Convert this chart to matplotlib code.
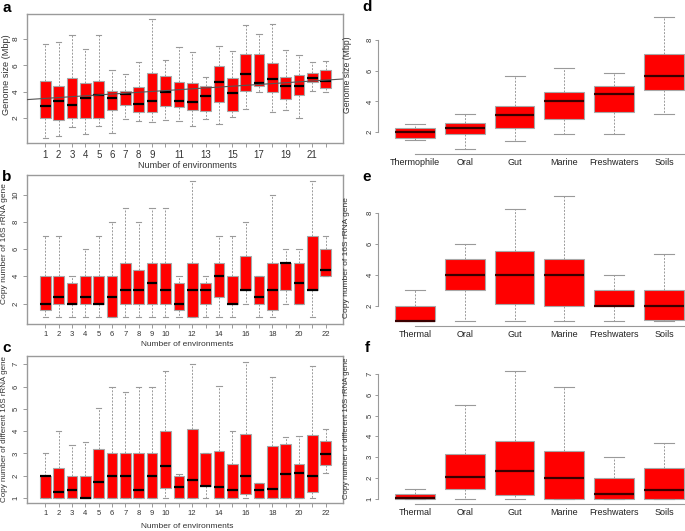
import numpy as np
import matplotlib.pyplot as plt

plt.rcParams['font.family'] = ['Liberation Sans', 'DejaVu Sans']

# ---- panel a: genome size vs number of environments ----
a_lo = [0.48, 0.61, 1.29, 0.76, 1.37, 0.84, 1.90, 1.75, 1.67, 1.87, 1.77,
        1.39, 1.92, 1.52, 2.08, 2.68, 3.99, 2.45, 2.61, 2.03, 4.05, 3.97]
a_q1 = [2.03, 1.87, 2.00, 1.97, 2.00, 2.58, 3.01, 2.43, 2.43, 2.91, 2.86,
        2.58, 2.53, 3.21, 2.53, 4.05, 4.40, 3.97, 3.44, 3.72, 4.73, 4.30]
a_med = [2.88, 3.31, 2.96, 3.52, 3.74, 3.52, 3.79, 3.09, 3.31, 3.94, 3.31,
         3.24, 3.64, 4.75, 3.87, 5.36, 4.65, 4.98, 4.42, 4.45, 5.03, 4.83]
a_q3 = [4.80, 4.40, 5.06, 4.65, 4.78, 4.02, 4.07, 4.32, 5.43, 5.18, 4.70,
        4.65, 4.45, 5.91, 5.03, 6.82, 6.85, 6.14, 5.13, 5.28, 5.38, 5.66]
a_hi = [7.63, 7.78, 8.31, 7.25, 8.26, 5.61, 5.36, 6.22, 9.53, 6.42, 7.38,
        7.00, 5.10, 7.48, 7.10, 9.05, 8.34, 9.15, 7.15, 6.80, 6.22, 6.29]
a_fit = (3.42, 0.066)  # intercept, slope of the trend line
a_xlabels = ['1', '2', '3', '4', '5', '6', '7', '8', '9', '', '11', '', '13', '',
             '15', '', '17', '', '19', '', '21', '']

# ---- panel b: 16S copy number vs number of environments ----
b_lo = [1, 1, 1, 1, 1, 1, 1, 1, 1, 1, 1, 1, 1, 1, 1, 2, 1, 1, 2, 2, 1, 4]
b_q1 = [1.5, 2, 2, 2, 2, 1, 2, 2, 2, 2, 1.5, 1, 2, 2.5, 2, 3, 2, 1.5, 3, 2, 3, 4]
b_med = [2, 2.5, 2, 2.5, 2, 2.5, 3, 3, 3.5, 3, 2, 3, 3, 4, 2, 3, 2.5, 3, 5, 3.5, 3, 4.5]
b_q3 = [4, 4, 3.5, 4, 4, 4, 5, 4.5, 5, 5, 3.5, 5, 3.5, 5, 4, 5.5, 4, 5, 5, 5, 7, 6]
b_hi = [7, 7, 4, 6, 7, 8, 9, 8, 9, 9, 4, 11, 4, 7, 7, 8, 4, 10, 6, 6, 11, 7]
bc_xlabels = ['1', '2', '3', '4', '5', '6', '7', '8', '9', '10', '', '12', '', '14',
              '', '16', '', '18', '', '20', '', '22']

# ---- panel c: different 16S copies vs number of environments ----
c_lo = [1, 1, 1, 1, 1, 1, 1, 1, 1, 1, 1, 1, 1, 1, 1, 1, 1, 1, 1, 1, 1, 2.11]
c_q1 = [1, 1, 1, 1, 1, 1, 1, 1, 1, 1.43, 1, 1, 1.52, 1, 1, 1.16, 1, 1, 1, 1, 1.25, 2.5]
c_med = [1.97, 1.25, 1.37, 1.02, 1.70, 2.0, 2.0, 1.37, 2.0, 2.42, 1.51,
         1.81, 1.54, 1.51, 1.34, 2.0, 1.36, 1.40, 2.08, 2.12, 2.0, 2.95]
c_q3 = [2.0, 2.35, 2.0, 2.0, 3.19, 3.0, 3.0, 3.0, 3.0, 4.0, 2.0,
        4.11, 3.0, 3.10, 2.51, 3.89, 1.67, 3.35, 3.44, 2.51, 3.83, 3.57]
c_hi = [3.0, 4.0, 3.38, 3.53, 5.04, 6.0, 5.76, 6.0, 6.0, 6.69, 2.06,
        7.02, 3.0, 6.03, 4.02, 7.12, 1.67, 6.42, 3.72, 3.77, 6.90, 4.11]

# ---- panels d-f: by environment ----
d_names = ['Thermophile', 'Oral', 'Gut', 'Marine', 'Freshwaters', 'Soils']
d_lo = [1.48, 0.92, 1.44, 1.85, 1.85, 3.21]
d_q1 = [1.65, 1.87, 2.24, 2.85, 3.30, 4.75]
d_med = [2.00, 2.26, 3.13, 4.01, 4.49, 5.68]
d_q3 = [2.30, 2.61, 3.71, 4.64, 5.01, 7.06]
d_hi = [2.56, 3.17, 5.64, 6.16, 5.85, 9.47]

ef_names = ['Thermal', 'Oral', 'Gut', 'Marine', 'Freshwaters', 'Soils']
e_lo = [1, 1, 1, 1, 1, 1]
e_q1 = [1, 3, 2.1, 2, 1.95, 1.1]
e_med = [1, 4, 4, 4, 2, 2]
e_q3 = [2, 5, 5.52, 5, 3, 3]
e_hi = [3, 6, 8.3, 9.09, 4, 5.37]

f_lo = [1, 1, 1, 1, 1, 1]
f_q1 = [1, 1.48, 1.18, 1, 1, 1]
f_med = [1.03, 2.04, 2.33, 2.01, 1.24, 1.40]
f_q3 = [1.21, 3.15, 3.76, 3.28, 2.00, 2.49]
f_hi = [1.48, 5.53, 7.12, 6.39, 3.00, 3.66]

W, H = 685, 531
GRAY = '#9a9a9a'
TXT = '#333333'

fig = plt.figure(figsize=(W / 100, H / 100), dpi=100)


def px_axes(x0, y0, x1, y1):
    return fig.add_axes([x0 / W, 1 - y1 / H, (x1 - x0) / W, (y1 - y0) / H])


def stats(lo, q1, med, q3, hi):
    return [dict(whislo=l, q1=a, med=m, q3=b, whishi=h)
            for l, a, m, b, h in zip(lo, q1, med, q3, hi)]


def draw_boxes(ax, st, med_color):
    ax.bxp(st, positions=np.arange(1, len(st) + 1), widths=0.8, capwidths=0.4,
           showfliers=False, patch_artist=True,
           boxprops=dict(facecolor='#ff0000', edgecolor='#a8a8a8', linewidth=0.8),
           medianprops=dict(color=med_color, linewidth=1.6),
           whiskerprops=dict(color=GRAY, linestyle=(0, (2, 1.5)), linewidth=0.7),
           capprops=dict(color=GRAY, linewidth=0.8))


def left_panel(ax, st, ylim, yticks, xlabels, tick_fs):
    draw_boxes(ax, st, 'black')
    ax.set_xlim(-0.4, 23.3)
    ax.set_ylim(ylim)
    ax.set_xticks(np.arange(1, 23))
    ax.set_xticklabels(xlabels, fontsize=tick_fs)
    ax.set_yticks(yticks)
    ax.set_yticklabels([str(t) for t in yticks], rotation=90, va='center', fontsize=min(tick_fs, 6))
    for sp in ax.spines.values():
        sp.set_color(GRAY)
        sp.set_linewidth(1.0)
    ax.tick_params(color=GRAY, labelcolor=TXT, length=3, width=0.7, pad=2)


def right_panel(ax, st, names, ylim, yticks):
    draw_boxes(ax, st, '#3a0000')
    ax.set_xlim(0.26, 6.42)
    ax.set_ylim(ylim)
    ax.set_xticks(np.arange(1, len(names) + 1))
    ax.set_xticklabels(names, fontsize=6.5, color='#222222')
    ax.set_yticks(yticks)
    ax.set_yticklabels([str(t) for t in yticks], rotation=90, va='center', fontsize=5.5)
    ax.spines['top'].set_visible(False)
    ax.spines['right'].set_visible(False)
    ax.spines['left'].set_bounds(yticks[0], yticks[-1])
    ax.spines['bottom'].set_bounds(1, 6.42)
    for sp in ('left', 'bottom'):
        ax.spines[sp].set_color(GRAY)
        ax.spines[sp].set_linewidth(0.8)
    ax.tick_params(axis='y', color=GRAY, labelcolor=TXT, length=2, width=0.7, pad=1)
    ax.tick_params(axis='x', length=0, pad=3)


# left column
ax_a = px_axes(26.7, 14, 343, 142.7)
left_panel(ax_a, stats(a_lo, a_q1, a_med, a_q3, a_hi), (0.13, 9.88), [2, 4, 6, 8], a_xlabels, 7)
ax_a.axline((0, a_fit[0]), slope=a_fit[1], color='#555555', linewidth=0.8, zorder=3)

ax_b = px_axes(26.7, 175, 343, 324)
left_panel(ax_b, stats(b_lo, b_q1, b_med, b_q3, b_hi), (0.5, 11.45), [2, 4, 6, 8, 10], bc_xlabels, 5.5)

ax_c = px_axes(26.7, 356, 343, 503.3)
left_panel(ax_c, stats(c_lo, c_q1, c_med, c_q3, c_hi), (0.76, 7.37), [1, 2, 3, 4, 5, 6, 7], bc_xlabels, 5.5)

# right column
ax_d = px_axes(378, 12, 685, 154)
right_panel(ax_d, stats(d_lo, d_q1, d_med, d_q3, d_hi), d_names, (0.58, 9.81), [2, 4, 6, 8])

ax_e = px_axes(378, 191.5, 685, 326)
right_panel(ax_e, stats(e_lo, e_q1, e_med, e_q3, e_hi), ef_names, (0.68, 9.41), [2, 4, 6, 8])

ax_f = px_axes(378, 366.4, 685, 503.8)
right_panel(ax_f, stats(f_lo, f_q1, f_med, f_q3, f_hi), ef_names, (0.755, 7.365), [1, 2, 3, 4, 5, 6, 7])

# axis titles
def ftext(x, y, s, **kw):
    fig.text(x / W, 1 - y / H, s, ha='center', va='center', color=TXT, **kw)


ftext(187, 166, 'Number of environments', fontsize=6.5)
ftext(187, 345, 'Number of environments', fontsize=6)
ftext(187, 526, 'Number of environments', fontsize=6)
ftext(7, 75, 'Genome size (Mbp)', fontsize=6.6, rotation=90)
ftext(5, 244, 'Copy number of 16S rRNA gene', fontsize=6, rotation=90)
ftext(5, 429, 'Copy number of different 16S rRNA gene', fontsize=5.8, rotation=90)
ftext(348, 75, 'Genome size (Mbp)', fontsize=6.2, rotation=90)
ftext(346, 258, 'Copy number of 16S rRNA gene', fontsize=6, rotation=90)
ftext(346, 428, 'Copy number of different 16S rRNA gene', fontsize=5.6, rotation=90)

# panel letters
for lx, ly, letter in [(7, 8, 'a'), (7, 177, 'b'), (7, 348, 'c'),
                       (367, 7, 'd'), (367, 177, 'e'), (367, 348, 'f')]:
    fig.text(lx / W, 1 - ly / H, letter, ha='center', va='center',
             fontsize=11, fontweight='bold', color='black')

fig.savefig('out.png', dpi=100)
